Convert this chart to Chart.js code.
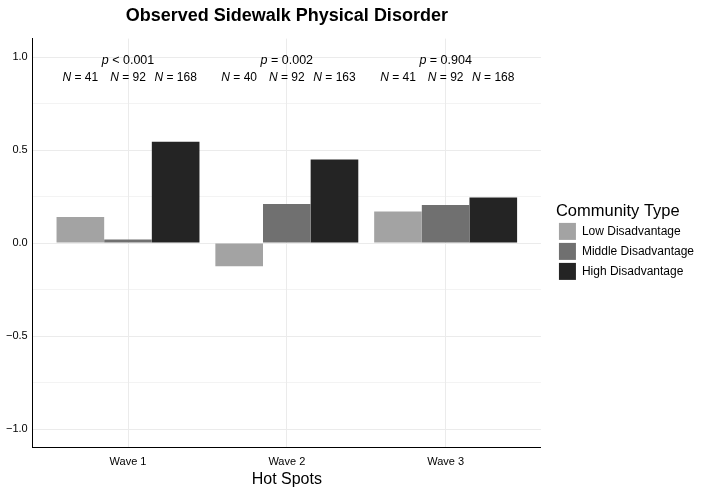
<!DOCTYPE html>
<html>
<head>
<meta charset="utf-8">
<script src="https://cdn.jsdelivr.net/npm/chart.js@4"></script>
<style>
  html, body { margin: 0; padding: 0; background: #fff; }
  #wrap { width: 704px; height: 491px; }
</style>
</head>
<body>
<div id="wrap"><canvas id="chart"></canvas></div>
<script>
// data
const waves = ['Wave 1', 'Wave 2', 'Wave 3'];
const groups = ['Low Disadvantage', 'Middle Disadvantage', 'High Disadvantage'];
const lowVals = [0.14, -0.125, 0.17];
const midVals = [0.02, 0.21, 0.205];
const highVals = [0.545, 0.45, 0.245];
const pLabels = ['< 0.001', '= 0.002', '= 0.904'];
const nLow = [41, 40, 41];
const nMid = [92, 92, 92];
const nHigh = [168, 163, 168];
const yTicks = [-1, -0.75, -0.5, -0.25, 0, 0.25, 0.5, 0.75, 1];

const colors = ['#a3a3a3', '#707070', '#242424'];
const FONT = '"Liberation Sans", Arial, Helvetica, sans-serif';
const P_Y = 0.98, N_Y = 0.89, DODGE = 0.3;
const LEGEND_SHIFT = 15; // gap between plot panel and legend
const LEGEND_LIFT = 5;

function pts(vals) {
  return vals.map((v, i) => ({ x: i + 1, y: v }));
}

function isMajor(v) {
  return Math.abs(v * 2 - Math.round(v * 2)) < 1e-9;
}

// draws "p < 0.001" / "N = 41" with italic letter, centred on x
function mixedText(ctx, italic, rest, x, y, size) {
  ctx.font = 'italic ' + size + 'px ' + FONT;
  const w1 = ctx.measureText(italic).width;
  ctx.font = size + 'px ' + FONT;
  const w2 = ctx.measureText(rest).width;
  const sx = x - (w1 + w2) / 2;
  ctx.textAlign = 'left';
  ctx.textBaseline = 'middle';
  ctx.fillStyle = '#000';
  ctx.font = 'italic ' + size + 'px ' + FONT;
  ctx.fillText(italic, sx, y);
  ctx.font = size + 'px ' + FONT;
  ctx.fillText(rest, sx + w1, y);
}

const annotations = {
  id: 'annotations',
  afterDatasetsDraw(chart) {
    const ctx = chart.ctx;
    const xs = chart.scales.x, ys = chart.scales.y;
    ctx.save();
    waves.forEach((w, i) => {
      const c = i + 1;
      mixedText(ctx, 'p', ' ' + pLabels[i], xs.getPixelForValue(c), ys.getPixelForValue(P_Y), 12.5);
      [nLow[i], nMid[i], nHigh[i]].forEach((n, j) => {
        mixedText(ctx, 'N', ' = ' + n, xs.getPixelForValue(c + (j - 1) * DODGE), ys.getPixelForValue(N_Y), 12);
      });
    });
    ctx.restore();
  }
};

// push the legend a bit away from the panel
const legendGap = {
  id: 'legendGap',
  afterInit(chart) {
    const lg = chart.legend;
    if (!lg) return;
    const fit = lg.fit, draw = lg.draw;
    lg.fit = function () { fit.call(this); this.width += LEGEND_SHIFT; };
    lg.draw = function () {
      this.ctx.save();
      this.ctx.translate(LEGEND_SHIFT, -LEGEND_LIFT);
      draw.call(this);
      this.ctx.restore();
    };
  }
};

new Chart(document.getElementById('chart'), {
  type: 'bar',
  data: {
    datasets: [
      { label: groups[0], data: pts(lowVals), backgroundColor: colors[0] },
      { label: groups[1], data: pts(midVals), backgroundColor: colors[1] },
      { label: groups[2], data: pts(highVals), backgroundColor: colors[2] }
    ]
  },
  options: {
    responsive: true,
    maintainAspectRatio: false,
    animation: false,
    datasets: { bar: { barPercentage: 1, categoryPercentage: 0.9, borderWidth: 0 } },
    layout: { padding: { left: 1, right: 0, top: 5, bottom: 0 } },
    scales: {
      x: {
        type: 'linear',
        min: 0.4,
        max: 3.6,
        offset: false,
        afterBuildTicks: s => { s.ticks = [1, 2, 3].map(v => ({ value: v })); },
        ticks: {
          callback: v => waves[v - 1],
          color: '#000',
          font: { family: FONT, size: 11 },
          maxRotation: 0,
          padding: 8
        },
        grid: { color: '#ebebeb', lineWidth: 1, drawTicks: false, offset: false },
        border: { display: true, color: '#000', width: 1 },
        title: { display: true, text: 'Hot Spots', color: '#000', font: { family: FONT, size: 16 }, padding: { top: -7, bottom: 2 } }
      },
      y: {
        min: -1.1,
        max: 1.1,
        afterBuildTicks: s => { s.ticks = yTicks.map(v => ({ value: v })); },
        ticks: {
          callback: v => (isMajor(v) ? v.toFixed(1).replace('-', '\u2212') : ''),
          color: '#000',
          font: { family: FONT, size: 11 },
          padding: 5
        },
        grid: {
          color: '#ebebeb',
          lineWidth: ctx => (isMajor(ctx.tick.value) ? 1 : 0.6),
          drawTicks: false
        },
        border: { display: true, color: '#000', width: 1 }
      }
    },
    plugins: {
      tooltip: { enabled: false },
      title: {
        display: true,
        fullSize: false,
        text: 'Observed Sidewalk Physical Disorder',
        color: '#000',
        font: { family: FONT, size: 18, weight: 'bold' },
        padding: { top: 0, bottom: 12 }
      },
      legend: {
        position: 'right',
        title: {
          display: true,
          position: 'start',
          text: 'Community Type',
          color: '#000',
          font: { family: FONT, size: 16.5 },
          padding: { top: 0, bottom: -3 }
        },
        labels: {
          boxWidth: 17,
          boxHeight: 17,
          padding: 3,
          color: '#000',
          font: { family: FONT, size: 12 }
        }
      }
    }
  },
  plugins: [annotations, legendGap]
});
</script>
</body>
</html>
